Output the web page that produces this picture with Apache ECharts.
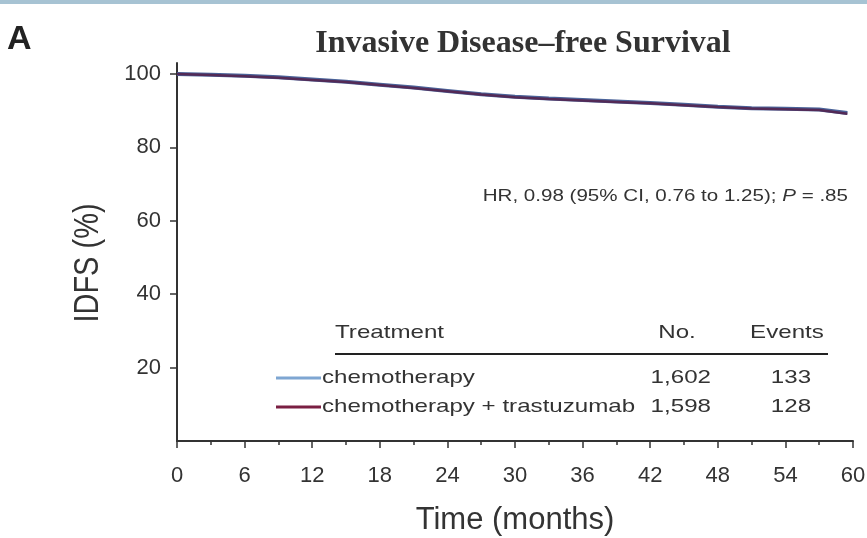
<!DOCTYPE html>
<html>
<head>
<meta charset="utf-8">
<script src="https://cdn.jsdelivr.net/npm/echarts@6/dist/echarts.min.js"></script>
<style>
  html, body { margin: 0; padding: 0; background: #fff; }
  #chart { width: 867px; height: 538px; }
</style>
</head>
<body>
<div id="chart"></div>
<script>
// Kaplan-Meier estimates of invasive disease-free survival (%), by month
const months = [0, 3, 6, 9, 12, 15, 18, 21, 24, 27, 30, 33, 36, 39, 42, 45, 48, 51, 54, 57, 59.5];
const chemoIDFS = [100, 99.8, 99.5, 99.1, 98.5, 97.9, 97.1, 96.3, 95.4, 94.5, 93.8, 93.3, 92.9, 92.5, 92.1, 91.6, 91.1, 90.7, 90.5, 90.3, 89.4];
const chemoTrasIDFS = [100, 99.7, 99.4, 99.0, 98.4, 97.8, 97.0, 96.2, 95.3, 94.4, 93.7, 93.2, 92.8, 92.4, 92.0, 91.5, 91.0, 90.6, 90.4, 90.2, 89.2];

const xTicks = [0, 6, 12, 18, 24, 30, 36, 42, 48, 54, 60];
const yTicks = [20, 40, 60, 80, 100];

const groups = ['chemotherapy', 'chemotherapy + trastuzumab'];
const groupN = ['1,602', '1,598'];
const groupEvents = ['133', '128'];
const groupColors = ['#7ea6d2', '#7a1f42'];

const hrText = 'HR, 0.98 (95% CI, 0.76 to 1.25); ';
const pText = '.85';

const font = 'Liberation Sans, Arial, sans-serif';
const ink = '#333333';

const chart = echarts.init(document.getElementById('chart'), null, { renderer: 'canvas' });

const pairs = (xs, ys) => xs.map((x, i) => [x, ys[i]]);

// legend table (swatches, names, counts); text is drawn slightly widened
const rowY = [378, 407];
const wide = 1.27;
const tf = '19px ' + font;
const tableEls = [
  { type: 'text', x: 335, y: 333, scaleX: wide, style: { text: 'Treatment', font: tf, fill: ink, verticalAlign: 'middle' } },
  { type: 'text', x: 677, y: 333, scaleX: wide, style: { text: 'No.', font: tf, fill: ink, align: 'center', verticalAlign: 'middle' } },
  { type: 'text', x: 787, y: 333, scaleX: wide, style: { text: 'Events', font: tf, fill: ink, align: 'center', verticalAlign: 'middle' } },
  { type: 'line', shape: { x1: 335, y1: 354, x2: 828, y2: 354 }, style: { stroke: '#222', lineWidth: 2.2 } }
];
groups.forEach((g, i) => {
  tableEls.push(
    { type: 'line', shape: { x1: 276, y1: rowY[i], x2: 321, y2: rowY[i] }, style: { stroke: groupColors[i], lineWidth: 3 } },
    { type: 'text', x: 322, y: rowY[i], scaleX: wide, style: { text: g, font: tf, fill: ink, verticalAlign: 'middle' } },
    { type: 'text', x: 711, y: rowY[i], scaleX: wide, style: { text: groupN[i], font: tf, fill: ink, align: 'right', verticalAlign: 'middle' } },
    { type: 'text', x: 791, y: rowY[i], scaleX: wide, style: { text: groupEvents[i], font: tf, fill: ink, align: 'center', verticalAlign: 'middle' } }
  );
});

const option = {
  backgroundColor: '#ffffff',
  animation: false,
  title: {
    text: 'Invasive Disease\u2013free Survival',
    left: 518, top: 23, textAlign: 'center',
    textStyle: { fontFamily: 'Liberation Serif, serif', fontWeight: 'bold', fontSize: 32, color: '#333' }
  },
  grid: { left: 177, right: 14, top: 63, bottom: 97, outerBoundsMode: 'none' },
  xAxis: {
    type: 'value', min: 0, max: 60, interval: 6,
    name: 'Time (months)', nameLocation: 'middle', nameGap: 64,
    nameTextStyle: { fontFamily: font, fontSize: 31, color: ink },
    axisLine: { lineStyle: { color: '#333', width: 2 } },
    axisTick: { length: 7, lineStyle: { color: '#333', width: 1.5 } },
    minorTick: { show: true, splitNumber: 2, length: 4, lineStyle: { color: '#333', width: 1.5 } },
    axisLabel: { fontFamily: font, fontSize: 22, color: ink, margin: 24, customValues: xTicks },
    splitLine: { show: false }
  },
  yAxis: {
    type: 'value', min: 0, max: 103, interval: 20,
    axisLine: { show: true, lineStyle: { color: '#333', width: 2 } },
    axisTick: { show: true, length: 7, customValues: yTicks, lineStyle: { color: '#333', width: 1.5 } },
    axisLabel: { fontFamily: font, fontSize: 22, color: ink, margin: 16, customValues: yTicks },
    splitLine: { show: false }
  },
  graphic: [
    { type: 'rect', shape: { x: 0, y: 0, width: 867, height: 4 }, style: { fill: '#a7c3d3' } },
    { type: 'text', x: 7, y: 23, style: { text: 'A', font: 'bold 34px ' + font, fill: '#222' } },
    // y-axis title, rotated and widened across the page
    { type: 'text', x: 88, y: 263, rotation: Math.PI / 2, scaleY: 1.2, style: {
        text: 'IDFS (%)', font: '29px ' + font, fill: ink, align: 'center', verticalAlign: 'middle' } },
    { type: 'text', x: 848, y: 196, scaleX: 1.21, style: {
        text: '{n|' + hrText + '}{i|P}{n| = ' + pText + '}',
        align: 'right', verticalAlign: 'middle',
        rich: {
          n: { font: '17px ' + font, fill: ink },
          i: { font: 'italic 17px ' + font, fill: ink }
        }
      } },
    ...tableEls
  ],
  series: [
    {
      name: groups[0], type: 'line', data: pairs(months, chemoIDFS),
      showSymbol: false, smooth: false,
      lineStyle: { color: '#4a6399', width: 4 }, z: 2
    },
    {
      name: groups[1], type: 'line', data: pairs(months, chemoTrasIDFS),
      showSymbol: false, smooth: false,
      lineStyle: { color: '#55204a', width: 2.5, opacity: 0.85 }, z: 3
    }
  ]
};

chart.setOption(option);
</script>
</body>
</html>
